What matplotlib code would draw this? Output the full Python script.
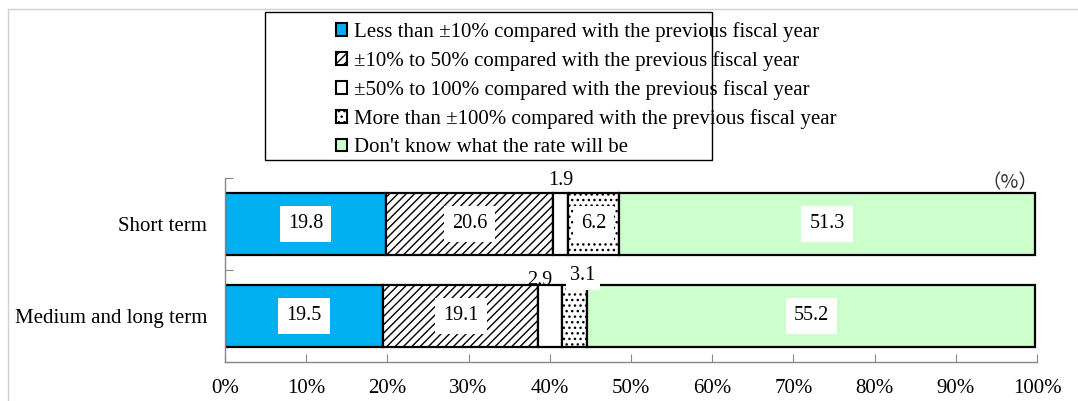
import matplotlib
matplotlib.use("Agg")
import matplotlib.pyplot as plt
from matplotlib.patches import Patch, Rectangle
from matplotlib.lines import Line2D

plt.rcParams['font.family'] = ['Liberation Serif', 'DejaVu Serif']
plt.rcParams['hatch.linewidth'] = 1.0

categories = ["Short term", "Medium and long term"]
series_names = [
    "Less than \u00b110% compared with the previous fiscal year",
    "\u00b110% to 50% compared with the previous fiscal year",
    "\u00b150% to 100% compared with the previous fiscal year",
    "More than \u00b1100% compared with the previous fiscal year",
    "Don't know what the rate will be",
]
short_term = [19.8, 20.6, 1.9, 6.2, 51.3]
medium_long = [19.5, 19.1, 2.9, 3.1, 55.2]
xticks = [0, 10, 20, 30, 40, 50, 60, 70, 80, 90, 100]
xtick_labels = [f"{t}%" for t in xticks]

colors = ["#00B0F0", "white", "white", "white", "#CCFFCC"]
hatches = [None, "////", None, "...", None]

fig = plt.figure(figsize=(10.78, 4.01), dpi=100)
ax = fig.add_axes([225/1078, 1-362/401, 812/1078, 184/401])

FS = 14.5
data = [short_term, medium_long]
bar_h = 0.67
for i, vals in enumerate(data):
    left = 0
    for j, v in enumerate(vals):
        ax.barh(i, v, left=left, height=bar_h, color=colors[j], edgecolor="black",
                linewidth=1.6, hatch=hatches[j])
        cx = left + v / 2
        box = dict(boxstyle="square,pad=0.4", fc="white", ec="none")
        if v >= 5:
            ax.text(cx, i, f"{v}", ha="center", va="center", fontsize=FS, bbox=box)
        left += v

# small-value labels placed above bars
ax.text(short_term[0] + short_term[1] + short_term[2] / 2, -0.47, f"{short_term[2]}",
        ha="center", va="center", fontsize=FS)
ax.text(medium_long[0] + medium_long[1] + 0.2, 0.61, f"{medium_long[2]}",
        ha="center", va="center", fontsize=FS)
ax.text(medium_long[0] + medium_long[1] + medium_long[2] + medium_long[3] - 0.5, 0.565,
        f"{medium_long[3]}", ha="center", va="center", fontsize=FS,
        bbox=dict(boxstyle="square,pad=0.2", fc="white", ec="none"))

ax.set_xlim(0, 100)
ax.set_ylim(1.5, -0.5)
ax.set_xticks(xticks)
ax.set_xticklabels(xtick_labels, fontsize=15)
ax.set_yticks([-0.5, 0.5, 1.5], minor=False)
ax.set_yticklabels([])
ax.set_yticks([0, 1], minor=True)
ax.set_yticklabels(categories, minor=True, fontsize=15)
ax.tick_params(axis="y", which="minor", length=0, pad=13)
ax.tick_params(axis="y", which="major", direction="in", length=6, color="#888888")
ax.tick_params(axis="x", direction="in", length=6, color="#888888", pad=12)
for s in ["top", "right"]:
    ax.spines[s].set_visible(False)
for s in ["left", "bottom"]:
    ax.spines[s].set_color("#888888")
    ax.spines[s].set_linewidth(1.0)

ax.text(100.2, -0.45, "\uff08%\uff09", ha="right", va="center", fontsize=14,
        family=["Noto Sans CJK JP", "DejaVu Sans"], color="#333333", clip_on=False)

# legend frame
fig.patches.append(Rectangle((265/1078, 1-160/401), 447/1078, 148/401,
                             transform=fig.transFigure, fill=False, ec="black", lw=1.0))
handles = [Patch(facecolor=colors[j], edgecolor="black", hatch=hatches[j], linewidth=1.5)
           for j in range(5)]
fig.legend(handles, series_names, loc="upper left", bbox_to_anchor=(336/1078, 1-22/401),
           frameon=False, fontsize=15, handlelength=0.55, handleheight=0.55,
           handletextpad=0.3, labelspacing=0.44, borderaxespad=0, borderpad=0)

# outer faint frame
fig.lines.append(Line2D([8/1078, 8/1078], [0, 1-9/401], transform=fig.transFigure,
                        color="#D0D0D0", lw=1))
fig.lines.append(Line2D([8/1078, 1], [1-9/401, 1-9/401], transform=fig.transFigure,
                        color="#D0D0D0", lw=1))

fig.savefig("out.png", dpi=100)
